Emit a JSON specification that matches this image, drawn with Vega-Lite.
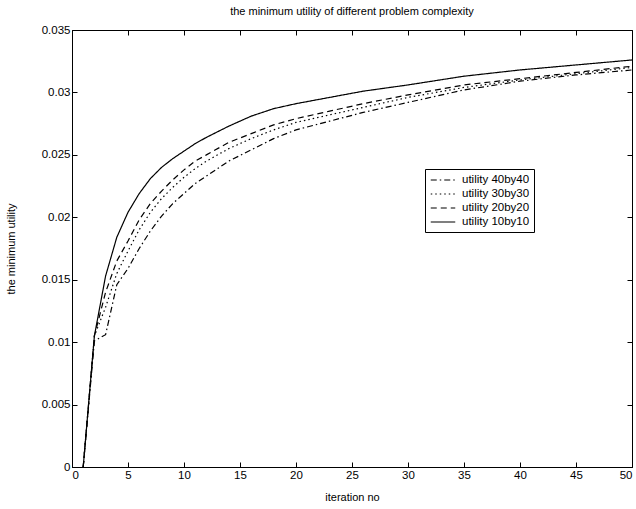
{
  "$schema": "https://vega.github.io/schema/vega-lite/v6.json",
  "width": 560,
  "height": 437,
  "autosize": {"type": "none"},
  "padding": {"left": 72, "top": 30, "right": 4, "bottom": 42},
  "background": "white",
  "title": {"text": "the minimum utility of different problem complexity", "fontSize": 11, "font": "Liberation Sans", "fontWeight": "normal", "offset": 7, "color": "black"},
  "config": {
    "view": {"stroke": "black", "strokeWidth": 1},
    "axis": {"labelFont": "Liberation Sans", "titleFont": "Liberation Sans", "labelFontSize": 11.5, "titleFontSize": 11, "titleFontWeight": "normal", "labelColor": "black", "titleColor": "black", "tickColor": "black", "domainColor": "black", "grid": false, "tickSize": -5, "labelPadding": 7}
  },
  "datasets": {
    "d": [
      {"x": 1, "y": 0, "s": "utility 10by10"},
      {"x": 2, "y": 0.0105, "s": "utility 10by10"},
      {"x": 3, "y": 0.0153, "s": "utility 10by10"},
      {"x": 4, "y": 0.0184, "s": "utility 10by10"},
      {"x": 5, "y": 0.0204, "s": "utility 10by10"},
      {"x": 6, "y": 0.0219, "s": "utility 10by10"},
      {"x": 7, "y": 0.0231, "s": "utility 10by10"},
      {"x": 8, "y": 0.0240, "s": "utility 10by10"},
      {"x": 9, "y": 0.0247, "s": "utility 10by10"},
      {"x": 10, "y": 0.0253, "s": "utility 10by10"},
      {"x": 11, "y": 0.0259, "s": "utility 10by10"},
      {"x": 12, "y": 0.0264, "s": "utility 10by10"},
      {"x": 14, "y": 0.0273, "s": "utility 10by10"},
      {"x": 16, "y": 0.0281, "s": "utility 10by10"},
      {"x": 18, "y": 0.0287, "s": "utility 10by10"},
      {"x": 20, "y": 0.0291, "s": "utility 10by10"},
      {"x": 23, "y": 0.0296, "s": "utility 10by10"},
      {"x": 26, "y": 0.0301, "s": "utility 10by10"},
      {"x": 30, "y": 0.0306, "s": "utility 10by10"},
      {"x": 35, "y": 0.0313, "s": "utility 10by10"},
      {"x": 40, "y": 0.0318, "s": "utility 10by10"},
      {"x": 45, "y": 0.0322, "s": "utility 10by10"},
      {"x": 50, "y": 0.0326, "s": "utility 10by10"},

      {"x": 1, "y": 0, "s": "utility 20by20"},
      {"x": 2, "y": 0.0105, "s": "utility 20by20"},
      {"x": 3, "y": 0.0140, "s": "utility 20by20"},
      {"x": 4, "y": 0.0165, "s": "utility 20by20"},
      {"x": 5, "y": 0.0181, "s": "utility 20by20"},
      {"x": 6, "y": 0.0198, "s": "utility 20by20"},
      {"x": 7, "y": 0.0211, "s": "utility 20by20"},
      {"x": 8, "y": 0.0221, "s": "utility 20by20"},
      {"x": 9, "y": 0.0230, "s": "utility 20by20"},
      {"x": 10, "y": 0.0238, "s": "utility 20by20"},
      {"x": 11, "y": 0.0245, "s": "utility 20by20"},
      {"x": 12, "y": 0.0250, "s": "utility 20by20"},
      {"x": 14, "y": 0.0260, "s": "utility 20by20"},
      {"x": 16, "y": 0.0267, "s": "utility 20by20"},
      {"x": 18, "y": 0.0274, "s": "utility 20by20"},
      {"x": 20, "y": 0.0279, "s": "utility 20by20"},
      {"x": 23, "y": 0.0285, "s": "utility 20by20"},
      {"x": 26, "y": 0.0291, "s": "utility 20by20"},
      {"x": 30, "y": 0.0298, "s": "utility 20by20"},
      {"x": 35, "y": 0.0306, "s": "utility 20by20"},
      {"x": 40, "y": 0.0311, "s": "utility 20by20"},
      {"x": 45, "y": 0.0316, "s": "utility 20by20"},
      {"x": 50, "y": 0.0321, "s": "utility 20by20"},

      {"x": 1, "y": 0, "s": "utility 30by30"},
      {"x": 2, "y": 0.0105, "s": "utility 30by30"},
      {"x": 3, "y": 0.0128, "s": "utility 30by30"},
      {"x": 4, "y": 0.0155, "s": "utility 30by30"},
      {"x": 5, "y": 0.0173, "s": "utility 30by30"},
      {"x": 6, "y": 0.0190, "s": "utility 30by30"},
      {"x": 7, "y": 0.0204, "s": "utility 30by30"},
      {"x": 8, "y": 0.0215, "s": "utility 30by30"},
      {"x": 9, "y": 0.0224, "s": "utility 30by30"},
      {"x": 10, "y": 0.0232, "s": "utility 30by30"},
      {"x": 11, "y": 0.0239, "s": "utility 30by30"},
      {"x": 12, "y": 0.0245, "s": "utility 30by30"},
      {"x": 14, "y": 0.0255, "s": "utility 30by30"},
      {"x": 16, "y": 0.0263, "s": "utility 30by30"},
      {"x": 18, "y": 0.0270, "s": "utility 30by30"},
      {"x": 20, "y": 0.0276, "s": "utility 30by30"},
      {"x": 23, "y": 0.0282, "s": "utility 30by30"},
      {"x": 26, "y": 0.0288, "s": "utility 30by30"},
      {"x": 30, "y": 0.0296, "s": "utility 30by30"},
      {"x": 35, "y": 0.0304, "s": "utility 30by30"},
      {"x": 40, "y": 0.0310, "s": "utility 30by30"},
      {"x": 45, "y": 0.0315, "s": "utility 30by30"},
      {"x": 50, "y": 0.0320, "s": "utility 30by30"},

      {"x": 1, "y": 0, "s": "utility 40by40"},
      {"x": 2, "y": 0.0101, "s": "utility 40by40"},
      {"x": 3, "y": 0.0106, "s": "utility 40by40"},
      {"x": 4, "y": 0.0146, "s": "utility 40by40"},
      {"x": 5, "y": 0.0159, "s": "utility 40by40"},
      {"x": 6, "y": 0.0175, "s": "utility 40by40"},
      {"x": 7, "y": 0.0189, "s": "utility 40by40"},
      {"x": 8, "y": 0.0201, "s": "utility 40by40"},
      {"x": 9, "y": 0.0211, "s": "utility 40by40"},
      {"x": 10, "y": 0.0219, "s": "utility 40by40"},
      {"x": 11, "y": 0.0227, "s": "utility 40by40"},
      {"x": 12, "y": 0.0233, "s": "utility 40by40"},
      {"x": 14, "y": 0.0245, "s": "utility 40by40"},
      {"x": 16, "y": 0.0254, "s": "utility 40by40"},
      {"x": 18, "y": 0.0263, "s": "utility 40by40"},
      {"x": 20, "y": 0.0270, "s": "utility 40by40"},
      {"x": 23, "y": 0.0277, "s": "utility 40by40"},
      {"x": 26, "y": 0.0284, "s": "utility 40by40"},
      {"x": 30, "y": 0.0292, "s": "utility 40by40"},
      {"x": 35, "y": 0.0302, "s": "utility 40by40"},
      {"x": 40, "y": 0.0309, "s": "utility 40by40"},
      {"x": 45, "y": 0.0314, "s": "utility 40by40"},
      {"x": 50, "y": 0.0318, "s": "utility 40by40"}
    ]
  },
  "data": {"name": "d"},
  "layer": [
    {
      "mark": {"type": "line", "color": "black", "strokeWidth": 1.2, "clip": true},
      "encoding": {
        "x": {"field": "x", "type": "quantitative", "scale": {"domain": [0, 50], "nice": false}, "axis": {"title": "iteration no", "values": [0,5,10,15,20,25,30,35,40,45,50], "titlePadding": 11}},
        "y": {"field": "y", "type": "quantitative", "scale": {"domain": [0, 0.035], "nice": false, "zero": false}, "axis": {"title": "the minimum utility", "values": [0,0.005,0.01,0.015,0.02,0.025,0.03,0.035], "labelExpr": "datum.value == 0 ? '0' : format(datum.value, '.3~f')", "titlePadding": 25}},
        "strokeDash": {
          "field": "s", "type": "nominal",
          "scale": {"domain": ["utility 40by40", "utility 30by30", "utility 20by20", "utility 10by10"], "range": [[6,3,1.5,3],[1.5,3],[6,4],[1,0]]},
          "legend": {"title": null, "orient": "none", "legendX": 353, "legendY": 139, "fillColor": "white", "strokeColor": "black", "padding": 4, "labelFont": "Liberation Sans", "labelFontSize": 11.5, "labelColor": "black", "symbolType": "M-2,0H2", "symbolSize": 150, "symbolOffset": 7, "symbolStrokeColor": "black", "symbolStrokeWidth": 1.2, "rowPadding": 1, "labelOffset": 12}
        },
        "detail": {"field": "s"}
      }
    },
    {
      "mark": {"type": "line", "opacity": 0},
      "encoding": {
        "x": {"field": "x", "type": "quantitative", "axis": {"orient": "top", "labels": false, "title": null, "values": [0,5,10,15,20,25,30,35,40,45,50], "domain": false}},
        "y": {"field": "y", "type": "quantitative", "axis": {"orient": "right", "labels": false, "title": null, "values": [0,0.005,0.01,0.015,0.02,0.025,0.03,0.035], "domain": false}},
        "detail": {"field": "s"}
      }
    }
  ],
  "resolve": {"axis": {"x": "independent", "y": "independent"}}
}
